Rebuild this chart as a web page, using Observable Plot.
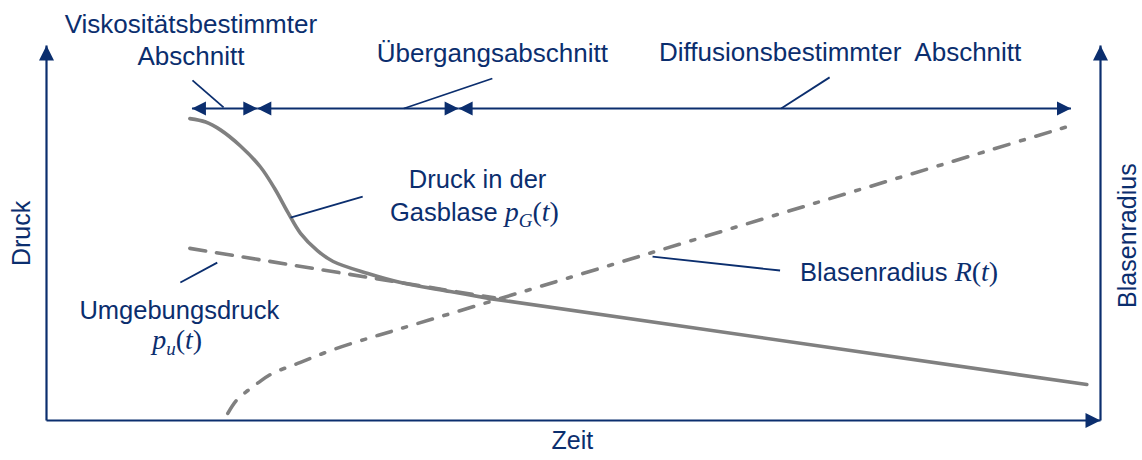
<!DOCTYPE html>
<html>
<head>
<meta charset="utf-8">
<script src="https://cdn.jsdelivr.net/npm/d3@7"></script>
<script src="https://cdn.jsdelivr.net/npm/@observablehq/plot@0.6"></script>
<style>
  html, body { margin: 0; padding: 0; background: #fff; }
</style>
</head>
<body>
<div id="chart"></div>
<script>
// Schematic of bubble growth: time (Zeit) and both value axes run 0–100 in arbitrary units.
const navy = "#0b2e6e";
const gray = "#808080";
const sans = "'Liberation Sans', Arial, sans-serif";
const mathFont = "'Liberation Serif', 'Times New Roman', serif";

// Phases of growth along the time axis
const phaseLabels = ["Viskositätsbestimmter\nAbschnitt", "Übergangsabschnitt", "Diffusionsbestimmter\u00a0 Abschnitt"];
const phaseBounds = [13.8, 20.0, 39.1, 97.2];
const phaseRow = 83.2;
const phaseLabelT = [13.7, 42.3, 75.3];
const phaseLabelV = [94.7, 95.5, 96.0];

// Gas pressure inside the bubble p_G(t): curved drop, then a straight decline after t = 42.1
const pGasT = [13.6, 15.1, 16.5, 18.4, 20.3, 21.7, 22.9, 24.1, 25.7, 27.2, 30.5, 33.6, 38.3, 42.1, 98.7];
const pGasV = [80.5, 79.6, 77.5, 73.2, 67.6, 61.6, 55.5, 49.9, 45.3, 42.4, 39.2, 36.8, 34.4, 32.5, 9.6];
const pGasBend = 42.1;

// Ambient pressure p_u(t)
const pAmbT = [13.6, 42.5];
const pAmbV = [45.9, 32.7];

// Bubble radius R(t)
const radiusT = [17.2, 18.0, 19.1, 20.1, 21.4, 24.1, 27.2, 30.5, 33.6, 96.9];
const radiusV = [1.9, 5.3, 8.0, 10.1, 12.5, 15.5, 18.9, 21.9, 24.5, 78.4];

// Callout texts ($…$ marks formula parts)
const calloutText = ["Druck in der", "Gasblase $p_G(t)$", "Umgebungsdruck", "$p_u(t)$", "Blasenradius $R(t)$"];
const calloutT = [40.9, 40.6, 12.6, 12.4, 71.5];
const calloutV = [61.9, 53.3, 27.2, 19.2, 37.3];
const calloutAnchor = ["middle", "middle", "middle", "middle", "start"];

// Leader lines from labels to curves / phase arrows
const leaderT1 = [13.85, 33.9, 69.7, 23.15, 57.5, 12.7];
const leaderV1 = [90.7, 83.2, 83.2, 54.1, 43.7, 36.8];
const leaderT2 = [16.8, 42.3, 74.3, 30.0, 69.6, 16.2];
const leaderV2 = [83.5, 91.2, 91.5, 59.7, 40.0, 42.1];

// Axis titles
const axisTitles = ["Druck", "Zeit", "Blasenradius"];
const axisTitleT = [-2.3, 49.9, 102.6];
const axisTitleV = [49.9, -7.7, 49.3];
const axisTitleRotate = [-90, 0, -90];

// Build tables for the marks
const series = (T, V) => T.map((t, i) => ({t, v: V[i]}));
const pGas = series(pGasT, pGasV);
const pGasHead = pGas.filter(d => d.t <= pGasBend);
const pGasTail = pGas.filter(d => d.t >= pGasBend);
const pAmb = series(pAmbT, pAmbV);
const radius = series(radiusT, radiusV);
const phases = phaseLabels.map((label, i) => ({label, t1: phaseBounds[i], t2: phaseBounds[i + 1]}));
const phaseText = phaseLabels.map((label, i) => ({label, t: phaseLabelT[i], v: phaseLabelV[i]}));
const callouts = calloutText.map((text, i) => ({text, t: calloutT[i], v: calloutV[i], anchor: calloutAnchor[i]}));
const leaders = leaderT1.map((t1, i) => ({t1, v1: leaderV1[i], t2: leaderT2[i], v2: leaderV2[i]}));
const titles = axisTitles.map((text, i) => ({text, t: axisTitleT[i], v: axisTitleV[i], rotate: axisTitleRotate[i]}));
const axes = [
  {t1: 0, v1: 0, t2: 0, v2: 100},
  {t1: 0, v1: 0, t2: 100, v2: 0},
  {t1: 100, v1: 0, t2: 100, v2: 100}
];

// Filled triangular arrowheads with the tip at the symbol origin
const head = (dir) => ({
  draw(ctx, size) {
    const r = Math.sqrt(size / Math.PI);
    const L = 2 * r;
    if (dir === "up") { ctx.moveTo(0, 0); ctx.lineTo(r, L); ctx.lineTo(-r, L); }
    else if (dir === "right") { ctx.moveTo(0, 0); ctx.lineTo(-L, -r); ctx.lineTo(-L, r); }
    else { ctx.moveTo(0, 0); ctx.lineTo(L, -r); ctx.lineTo(L, r); }
    ctx.closePath();
  }
});
const axisUp = [{t: 0, v: 100}, {t: 100, v: 100}];
const axisRight = [{t: 100, v: 0}];
const phaseLeft = phases.map(p => ({t: p.t1, v: phaseRow}));
const phaseRight = phases.map(p => ({t: p.t2, v: phaseRow}));

const labelStyle = {x: "t", y: "v", text: "text", fill: navy, fontSize: 25.5, lineAnchor: "bottom", fontFamily: sans};
const curveStyle = {x: "t", y: "v", stroke: gray, strokeWidth: 3.6};

const svg = Plot.plot({
  width: 1142,
  height: 460,
  marginLeft: 46,
  marginRight: 42,
  marginTop: 45,
  marginBottom: 40,
  x: {domain: [0, 100], axis: null},
  y: {domain: [0, 100], axis: null},
  style: {fontFamily: sans, background: "#fff", overflow: "visible"},
  marks: [
    // curves
    Plot.line(radius, {...curveStyle, curve: "catmull-rom", strokeDasharray: "15,12,4,12"}),
    Plot.line(pAmb, {...curveStyle, strokeDasharray: "16,11"}),
    Plot.line(pGasHead, {...curveStyle, curve: "catmull-rom"}),
    Plot.line(pGasTail, {...curveStyle, strokeLinecap: "round"}),
    // axes
    Plot.link(axes, {x1: "t1", y1: "v1", x2: "t2", y2: "v2", stroke: navy, strokeWidth: 2.2}),
    Plot.dot(axisUp, {x: "t", y: "v", r: 7.5, symbol: head("up"), fill: navy, stroke: "none"}),
    Plot.dot(axisRight, {x: "t", y: "v", r: 7.5, symbol: head("right"), fill: navy, stroke: "none"}),
    // phase arrows
    Plot.link(phases, {x1: "t1", x2: "t2", y1: phaseRow, y2: phaseRow, stroke: navy, strokeWidth: 2}),
    Plot.dot(phaseLeft, {x: "t", y: "v", r: 7, symbol: head("left"), fill: navy, stroke: "none"}),
    Plot.dot(phaseRight, {x: "t", y: "v", r: 7, symbol: head("right"), fill: navy, stroke: "none"}),
    // leader lines
    Plot.link(leaders, {x1: "t1", y1: "v1", x2: "t2", y2: "v2", stroke: navy, strokeWidth: 1.8}),
    // labels
    Plot.text(phaseText, {...labelStyle, text: "label", fontSize: 26, lineHeight: 1.24, textAnchor: "middle"}),
    Plot.text(callouts.filter(d => d.anchor === "middle"), {...labelStyle, textAnchor: "middle"}),
    Plot.text(callouts.filter(d => d.anchor === "start"), {...labelStyle, textAnchor: "start"}),
    Plot.text(titles.filter(d => d.rotate), {...labelStyle, fontSize: 25, rotate: -90, lineAnchor: "middle", textAnchor: "middle"}),
    Plot.text(titles.filter(d => !d.rotate), {...labelStyle, fontSize: 25, textAnchor: "middle"})
  ]
});

// Typeset $…$ parts as formulas: italic letters, upright brackets, lowered subscripts
d3.select(svg).selectAll("text").each(function () {
  const s = this.textContent;
  if (!s.includes("$")) return;
  const sel = d3.select(this);
  this.textContent = "";
  s.split("$").forEach((part, i) => {
    if (i % 2 === 0) { if (part) sel.append("tspan").text(part); return; }
    let shift = 0;
    for (let j = 0; j < part.length; j++) {
      const c = part[j];
      if (c === "_") {
        sel.append("tspan").attr("font-family", mathFont).attr("font-style", "italic")
          .attr("font-size", 19).attr("dy", 6).text(part[j + 1]);
        shift = 6; j++;
        continue;
      }
      const t = sel.append("tspan").attr("font-family", mathFont).attr("font-size", 28).text(c);
      if (/[A-Za-z]/.test(c)) t.attr("font-style", "italic");
      if (shift) { t.attr("dy", -shift); shift = 0; }
    }
  });
});

document.getElementById("chart").append(svg);
</script>
</body>
</html>
